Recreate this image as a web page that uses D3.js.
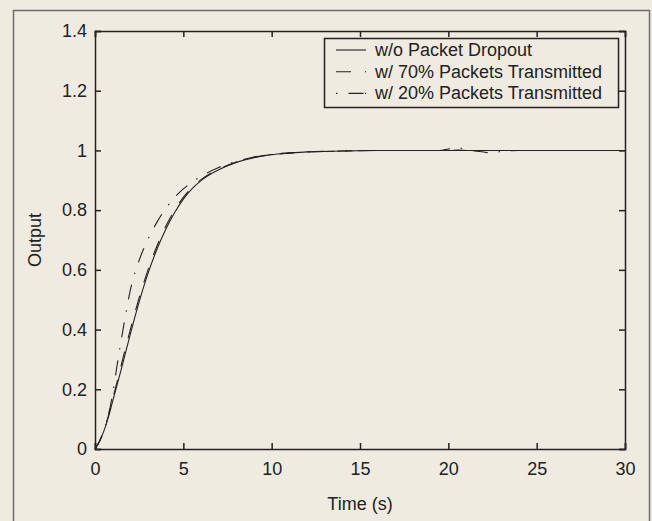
<!DOCTYPE html>
<html>
<head>
<meta charset="utf-8">
<script src="https://d3js.org/d3.v7.min.js"></script>
<style>
  body { margin: 0; background: #f0ebe1; }
  svg text { font-family: "Liberation Sans", Arial, sans-serif; fill: #222; }
</style>
</head>
<body>
<script>
// sample times (s) shared by all three responses
var time = [0, 0.25, 0.5, 0.75, 1, 1.25, 1.5, 1.75, 2, 2.5, 3, 3.5, 4, 4.5, 5, 5.5, 6, 7, 8, 9,
            10, 11, 12, 14, 16, 18, 19.5, 20, 20.5, 21, 21.5, 22, 22.5, 23, 24, 26, 28, 30];

// w/o packet dropout (solid)
var noDropout = [0, 0.025, 0.06, 0.105, 0.16, 0.215, 0.27, 0.328, 0.385, 0.493, 0.588, 0.668, 0.735, 0.791, 0.837, 0.872, 0.899, 0.935, 0.96, 0.976,
                 0.986, 0.991, 0.995, 0.998, 1, 1, 1, 1, 1, 1, 1, 1, 1, 1, 1, 1, 1, 1];

// w/ 70% packets transmitted (dashed)
var pct70 = [0, 0.025, 0.062, 0.11, 0.168, 0.225, 0.285, 0.343, 0.4, 0.507, 0.6, 0.679, 0.745, 0.799, 0.843, 0.876, 0.902, 0.937, 0.961, 0.977,
             0.986, 0.991, 0.995, 0.998, 1, 1, 1, 1, 1.001, 1, 0.999, 1, 1, 1, 1, 1, 1, 1];

// w/ 20% packets transmitted (dash-dot)
var pct20 = [0, 0.025, 0.062, 0.112, 0.185, 0.28, 0.37, 0.455, 0.532, 0.632, 0.702, 0.759, 0.805, 0.842, 0.871, 0.894, 0.913, 0.943, 0.963, 0.978,
             0.987, 0.992, 0.995, 0.998, 1, 1, 1, 1.005, 1.01, 1.003, 0.998, 0.995, 0.99, 0.997, 1, 1, 1, 1];

var seriesNames = ["w/o Packet Dropout", "w/ 70% Packets Transmitted", "w/ 20% Packets Transmitted"];
var xTicks = [0, 5, 10, 15, 20, 25, 30];
var yTicks = [0, 0.2, 0.4, 0.6, 0.8, 1, 1.2, 1.4];

var W = 652, H = 521;
var mLeft = 95, mTop = 31, width = 530, height = 418;
var dashes = ["none", "15,14", "15,11,1.5,11"];
var ink = "#222";
var fontSize = "18px";

var svg = d3.select("body").append("svg")
    .attr("width", W)
    .attr("height", H);

// outer frame of the figure
svg.append("rect")
    .attr("x", 13.5).attr("y", 10.5)
    .attr("width", 636).attr("height", H)
    .attr("fill", "none")
    .attr("stroke", "#6d6d6d")
    .attr("stroke-width", 1.5);

var g = svg.append("g").attr("transform", "translate(" + mLeft + "," + mTop + ")");

var x = d3.scaleLinear().domain([0, 30]).range([0, width]);
var y = d3.scaleLinear().domain([0, 1.4]).range([height, 0]);

// axes, ticks point inwards on all four sides
g.append("g")
    .attr("transform", "translate(0," + height + ")")
    .call(d3.axisBottom(x).tickValues(xTicks).tickSize(-6).tickPadding(13).tickFormat(d3.format("d")))
    .attr("class", "axis");
g.append("g")
    .call(d3.axisTop(x).tickValues(xTicks).tickSize(-6).tickFormat(""))
    .attr("class", "axis");
g.append("g")
    .call(d3.axisLeft(y).tickValues(yTicks).tickSize(-6).tickPadding(8).tickFormat(function (d) { return d3.format("~g")(d); }))
    .attr("class", "axis");
g.append("g")
    .attr("transform", "translate(" + width + ",0)")
    .call(d3.axisRight(y).tickValues(yTicks).tickSize(-6).tickFormat(""))
    .attr("class", "axis");

g.selectAll(".axis path, .axis line")
    .attr("stroke", ink)
    .attr("stroke-width", 1.5);
g.selectAll(".axis text")
    .style("font-size", fontSize)
    .attr("fill", ink);

// curves
var series = [noDropout, pct70, pct20];
var line = d3.line()
    .x(function (d, i) { return x(time[i]); })
    .y(function (d) { return y(d); })
    .curve(d3.curveMonotoneX);

g.selectAll(".curve")
    .data(series)
    .enter()
    .append("path")
    .attr("class", "curve")
    .attr("d", line)
    .attr("fill", "none")
    .attr("stroke", ink)
    .attr("stroke-width", 1.1)
    .attr("stroke-dasharray", function (d, i) { return dashes[i]; });

// axis titles
svg.append("text")
    .attr("x", mLeft + width / 2)
    .attr("y", 510)
    .attr("text-anchor", "middle")
    .style("font-size", fontSize)
    .text("Time (s)");

svg.append("text")
    .attr("transform", "translate(41," + (mTop + height / 2) + ") rotate(-90)")
    .attr("text-anchor", "middle")
    .style("font-size", fontSize)
    .text("Output");

// legend
var lg = svg.append("g").attr("transform", "translate(324,38)");
lg.append("rect")
    .attr("x", 0.5).attr("y", 0.5)
    .attr("width", 294).attr("height", 69)
    .attr("fill", "#f0ebe1")
    .attr("stroke", ink)
    .attr("stroke-width", 1.5);

var row = lg.selectAll(".row")
    .data(seriesNames)
    .enter()
    .append("g")
    .attr("transform", function (d, i) { return "translate(0," + (12 + i * 21.7) + ")"; });

row.append("line")
    .attr("x1", 12).attr("x2", 42)
    .attr("y1", 0).attr("y2", 0)
    .attr("stroke", ink)
    .attr("stroke-width", 1.1)
    .attr("stroke-dasharray", function (d, i) { return i === 2 ? "1.5,11,15" : dashes[i]; });

row.append("text")
    .attr("x", 51)
    .attr("y", 6)
    .style("font-size", fontSize)
    .text(function (d) { return d; });
</script>
</body>
</html>
